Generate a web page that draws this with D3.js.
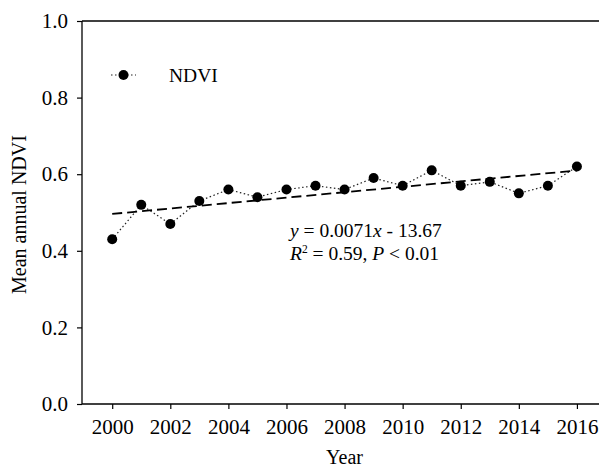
<!DOCTYPE html>
<html>
<head>
<meta charset="utf-8">
<script src="https://cdn.jsdelivr.net/npm/d3@7"></script>
<style>
  body { margin: 0; background: #fff; }
  svg { display: block; font-family: "Liberation Serif", "Times New Roman", serif; }
</style>
</head>
<body>
<div id="chart"></div>
<script>
// data
const years = [2000, 2001, 2002, 2003, 2004, 2005, 2006, 2007, 2008, 2009, 2010, 2011, 2012, 2013, 2014, 2015, 2016];
const ndvi = [0.43, 0.52, 0.47, 0.53, 0.56, 0.54, 0.56, 0.57, 0.56, 0.59, 0.57, 0.61, 0.57, 0.58, 0.55, 0.57, 0.62];
const xTicks = [2000, 2002, 2004, 2006, 2008, 2010, 2012, 2014, 2016];
const yTicks = [0.0, 0.2, 0.4, 0.6, 0.8, 1.0];
const seriesName = "NDVI";

const width = 600, height = 469;
const margin = { top: 21, right: 1, bottom: 65, left: 82 };

const svg = d3.select("#chart").append("svg")
  .attr("width", width)
  .attr("height", height);

const x = d3.scaleLinear().domain([1998.96, 2016.76]).range([margin.left, width - margin.right]);
const y = d3.scaleLinear().domain([0, 1]).range([height - margin.bottom, margin.top]);

const data = years.map((yr, i) => ({ year: yr, value: ndvi[i] }));

// least squares trend
const mx = d3.mean(years), my = d3.mean(ndvi);
const slope = d3.sum(data, d => (d.year - mx) * (d.value - my)) / d3.sum(data, d => (d.year - mx) ** 2);
const icpt = my - slope * mx;
const trend = [years[0], years[years.length - 1]].map(yr => ({ year: yr, value: icpt + slope * yr }));

// top frame line
svg.append("line")
  .attr("x1", margin.left).attr("x2", width - margin.right)
  .attr("y1", y(1)).attr("y2", y(1))
  .attr("stroke", "#000").attr("stroke-width", 1.3);

const xAxis = svg.append("g")
  .attr("transform", `translate(0,${y(0)})`)
  .call(d3.axisBottom(x).tickValues(xTicks).tickFormat(d3.format("d")).tickSizeOuter(0).tickSize(5).tickPadding(10));

const yAxis = svg.append("g")
  .attr("transform", `translate(${margin.left},0)`)
  .call(d3.axisLeft(y).tickValues(yTicks).tickFormat(d3.format(".1f")).tickSizeOuter(0).tickSize(5).tickPadding(9));

[xAxis, yAxis].forEach(a => {
  a.select(".domain").attr("stroke", "#000").attr("stroke-width", 1.3);
  a.selectAll(".tick line").attr("stroke", "#000").attr("stroke-width", 1.2);
  a.selectAll("text")
    .attr("font-family", "Liberation Serif, serif")
    .attr("font-size", 21)
    .attr("fill", "#000");
});
// extend domain lines to the corner
xAxis.select(".domain").attr("d", `M${margin.left},0H${width - margin.right}`);
yAxis.select(".domain").attr("d", `M0,${y(1)}V${y(0)}`);

const line = d3.line().x(d => x(d.year)).y(d => y(d.value));

svg.append("path").datum(data)
  .attr("fill", "none")
  .attr("stroke", "#222")
  .attr("stroke-width", 1.2)
  .attr("stroke-dasharray", "1.5,2.5")
  .attr("d", line);

svg.append("path").datum(trend)
  .attr("fill", "none")
  .attr("stroke", "#000")
  .attr("stroke-width", 1.8)
  .attr("stroke-dasharray", "10,5")
  .attr("d", line);

svg.selectAll("circle.pt").data(data).join("circle")
  .attr("class", "pt")
  .attr("cx", d => x(d.year))
  .attr("cy", d => y(d.value))
  .attr("r", 5)
  .attr("fill", "#000");

// legend
const lg = svg.append("g").attr("transform", "translate(111,75)");
lg.append("line").attr("x1", 0).attr("x2", 25).attr("y1", 0).attr("y2", 0)
  .attr("stroke", "#222").attr("stroke-width", 1.2).attr("stroke-dasharray", "1.5,2.5");
lg.append("circle").attr("cx", 12.5).attr("cy", 0).attr("r", 5).attr("fill", "#000");
lg.append("text").attr("x", 58).attr("y", 7)
  .attr("font-size", 19.5).text(seriesName);

// equation
const eq = svg.append("g").attr("font-size", 19.5);
const t1 = eq.append("text").attr("x", 290).attr("y", 237);
t1.append("tspan").attr("font-style", "italic").text("y");
t1.append("tspan").text(" = 0.0071");
t1.append("tspan").attr("font-style", "italic").text("x");
t1.append("tspan").text(" - 13.67");

const t2 = eq.append("text").attr("x", 290).attr("y", 260);
t2.append("tspan").attr("font-style", "italic").text("R");
t2.append("tspan").attr("font-size", 11.5).attr("dy", -7).text("2");
t2.append("tspan").attr("dy", 7).text(" = 0.59, ");
t2.append("tspan").attr("font-style", "italic").text("P");
t2.append("tspan").text(" < 0.01");

// axis titles
svg.append("text")
  .attr("x", (margin.left + width - margin.right) / 2 + 4)
  .attr("y", 464)
  .attr("text-anchor", "middle")
  .attr("font-size", 20)
  .text("Year");

svg.append("text")
  .attr("transform", `translate(26,${(y(0) + y(1)) / 2 + 2}) rotate(-90)`)
  .attr("text-anchor", "middle")
  .attr("font-size", 20)
  .text("Mean annual NDVI");
</script>
</body>
</html>
